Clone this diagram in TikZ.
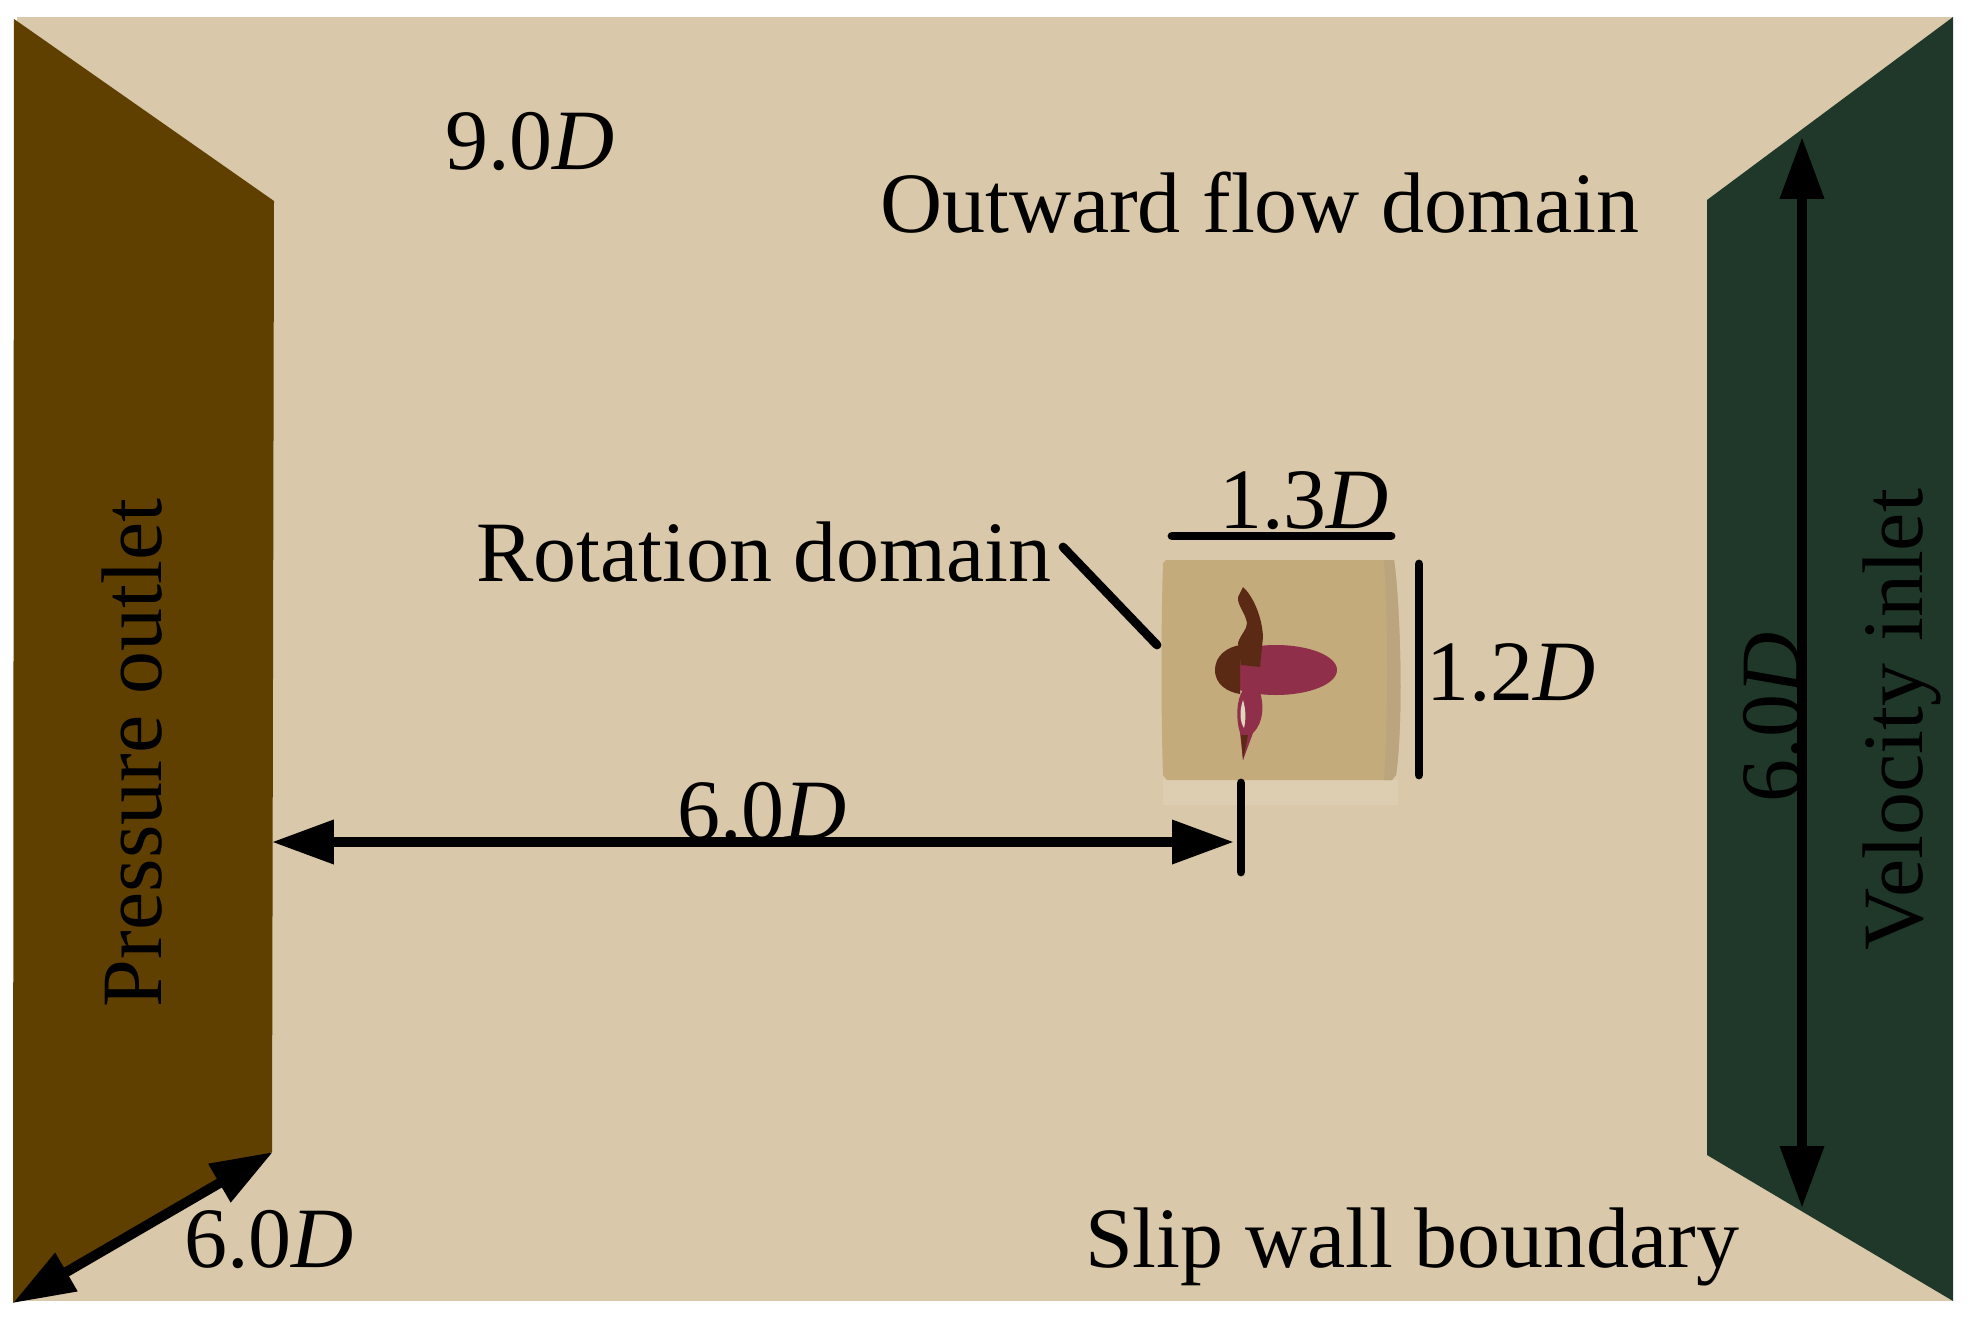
\documentclass[tikz,border=0pt]{standalone}
\usepackage{fontspec}
\setmainfont{Liberation Serif}
\usetikzlibrary{arrows.meta}
\definecolor{wallbg}{HTML}{D9C8A9}
\definecolor{outletc}{HTML}{5F4000}
\definecolor{inletc}{HTML}{20382A}
\definecolor{rotc}{HTML}{C4AB7C}
\definecolor{rotedge}{HTML}{BBA57F}
\definecolor{halo}{HTML}{DDCDB1}
\definecolor{hubc}{HTML}{8F2F4A}
\definecolor{bladec}{HTML}{5A2A14}
\tikzset{
  lab/.style={inner sep=0pt,outer sep=0pt,anchor=base west,font=\fontsize{43}{43}\selectfont,text=black},
  vlab/.style={lab,rotate=90},
  dimarrow/.style={line width=5pt,draw=black,{Triangle[length=31pt,width=21pt]}-{Triangle[length=31pt,width=21pt]},shorten <=-0.1pt},
  oneway/.style={line width=5pt,draw=black,-{Triangle[length=31pt,width=21pt]}},
  backway/.style={line width=5pt,draw=black,{Triangle[length=31pt,width=21pt]}-},
  dimbar/.style={line width=4.4pt,draw=black,line cap=round},
}
\begin{document}
\begin{tikzpicture}[x=0.5pt,y=-0.5pt]
\useasboundingbox (0,0) rectangle (1974,1321);
\fill[white] (0,0) rectangle (1974,1321);
% walls
\fill[wallbg] (17,17) rectangle (1953,1301);
\fill[outletc] (14,19) -- (274,201) -- (272,1152) -- (13,1303) -- cycle;
\fill[inletc] (1953,17) -- (1707,200) -- (1707,1155) -- (1953,1301) -- cycle;
% rotation domain
\fill[halo] (1163,780) rectangle (1398,805);
\fill[rotc] (1166,560) -- (1394,560) .. controls (1400,600) and (1404,720) .. (1396,775)
  -- (1392,780) -- (1167,780) -- (1163,775) .. controls (1161,720) and (1161,620) .. (1163,563) -- cycle;
\fill[rotedge] (1384,560) -- (1394,560) .. controls (1400,600) and (1404,720) .. (1396,775) -- (1392,780) -- (1384,780) .. controls (1388,720) and (1388,620) .. (1384,560) -- cycle;
% propeller
\fill[hubc] (1276,670) ellipse [x radius=61,y radius=25];
\fill[bladec] (1215,670) .. controls (1215,655) and (1228,647) .. (1240,645) -- (1240,694) .. controls (1228,692) and (1215,685) .. (1215,670) -- cycle;
\fill[bladec] (1243,587) .. controls (1252,595) and (1262,615) .. (1263,637)
  -- (1260,667) -- (1241,665) -- (1238,643) .. controls (1240,635) and (1247,630) .. (1247,623)
  .. controls (1245,612) and (1237,605) .. (1238,597) -- cycle;
\fill[hubc] (1243,690) -- (1260,692) .. controls (1264,705) and (1264,722) .. (1253,733)
  -- (1243,760) -- (1240,733) .. controls (1236,720) and (1236,700) .. (1243,690) -- cycle;
\fill[bladec] (1241,735) -- (1248,735) -- (1243,760) -- cycle;
\fill[rotc!50!white] (1243,700) .. controls (1239,712) and (1240,722) .. (1244,728) .. controls (1246,720) and (1246,710) .. (1243,700) -- cycle;
% connectors
\coordinate (vtop) at (1802,137);
\coordinate (vbot) at (1802,1208);
\coordinate (hleft) at (272,842);
\coordinate (hright) at (1234,842);
\coordinate (dlow) at (13,1303);
\coordinate (dhigh) at (273,1152);
\coordinate (tickA) at (1241,783);
\coordinate (tickB) at (1241,872);
\coordinate (wA) at (1172,536);
\coordinate (wB) at (1391,536);
\coordinate (hA) at (1419,564);
\coordinate (hB) at (1419,775);
\draw[dimarrow] (vtop) -- (vbot);
\draw[dimarrow] (hleft) -- (hright);
\draw[dimarrow] (dlow) -- (dhigh);
\draw[dimbar] (tickA) -- (tickB);
\draw[dimbar] (wA) -- (wB);
\draw[dimbar] (hA) -- (hB);
% labels
\node[lab] (t90) at (445,170) {9.0\textit{D}};
\node[lab] (tout) at (880,233) {Outward flow domain};
\node[lab] (trot) at (476,581) {Rotation domain};
\node[lab] (t13) at (1219,528) {1.3\textit{D}};
\node[lab] (t12) at (1426,700) {1.2\textit{D}};
\node[lab] (t60h) at (677,839) {6.0\textit{D}};
\node[lab] (t60d) at (184,1267) {6.0\textit{D}};
\node[lab] (tslip) at (1085,1267) {Slip wall boundary};
\node[vlab] (tpress) at (161,1007) {Pressure outlet};
\node[vlab] (tvel) at (1922,950) {Velocity inlet};
\node[vlab] (t60v) at (1800,802) {6.0\textit{D}};
\coordinate (leadA) at (1063,547);
\coordinate (leadB) at (1157,645);
\draw[dimbar] (leadA) -- (leadB);
\end{tikzpicture}
\end{document}
